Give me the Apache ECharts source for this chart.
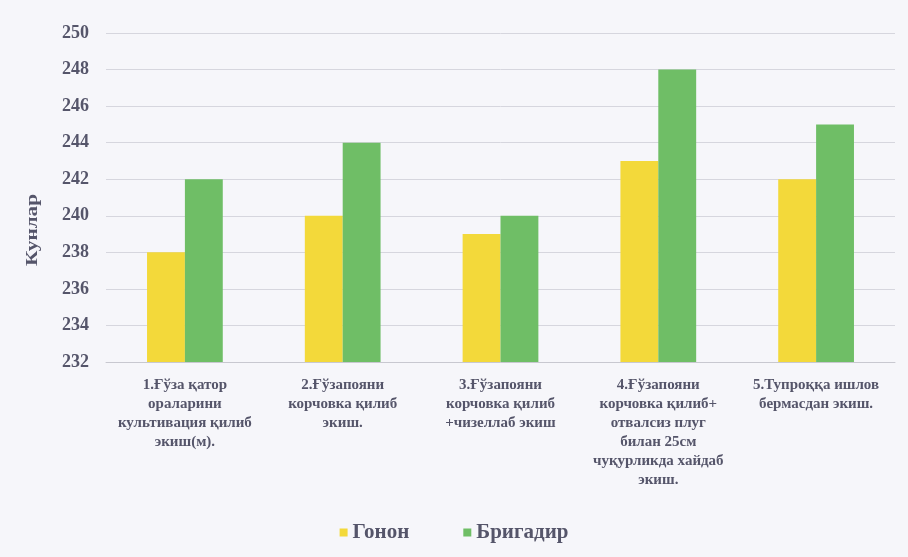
<!DOCTYPE html>
<html>
<head>
<meta charset="utf-8">
<style>
  html, body { margin: 0; padding: 0; background: #f6f6fa; }
  #chart { width: 908px; height: 557px; }
</style>
<script src="https://cdn.jsdelivr.net/npm/echarts@6/dist/echarts.min.js"></script>
</head>
<body>
<div id="chart"></div>
<script>
// Treatment variants (sowing methods), with line breaks for the axis labels
const categories = [
  '1.Ғўза қатор\nораларини\nкультивация қилиб\nэкиш(м).',
  '2.Ғўзапояни\nкорчовка қилиб\nэкиш.',
  '3.Ғўзапояни\nкорчовка қилиб\n+чизеллаб экиш',
  '4.Ғўзапояни\nкорчовка қилиб+\nотвалсиз плуг\nбилан 25см\nчуқурликда хайдаб\nэкиш.',
  '5.Тупроққа ишлов\nбермасдан экиш.'
];
// Days for each cotton variety
const gononDays = [238, 240, 239, 243, 242];
const brigadirDays = [242, 244, 240, 248, 245];
const seriesNames = ['Гонон', 'Бригадир'];
const yTicks = { min: 232, max: 250, step: 2 };
const yTitle = 'Кунлар';

const textColor = '#55556a';
const font = '"Liberation Serif", "DejaVu Serif", serif';

const chart = echarts.init(document.getElementById('chart'));
chart.setOption({
  backgroundColor: '#f6f6fa',
  textStyle: { fontFamily: font },
  grid: { left: 106, right: 13, top: 33, bottom: 195 },
  legend: {
    bottom: 9,
    left: 'center',
    itemWidth: 8,
    itemHeight: 8,
    itemGap: 54,
    icon: 'rect',
    textStyle: { color: textColor, fontSize: 21, fontWeight: 'bold', fontFamily: font },
    data: seriesNames
  },
  graphic: [{
    type: 'text',
    x: 33,
    y: 230,
    rotation: Math.PI / 2,
    scaleX: 1.25,
    style: {
      text: yTitle,
      fill: textColor,
      font: 'bold 17px ' + font,
      align: 'center',
      verticalAlign: 'middle'
    }
  }],
  xAxis: {
    type: 'category',
    data: categories,
    axisLine: { show: true, lineStyle: { color: '#c8c8d0' } },
    axisTick: { show: false },
    axisLabel: {
      interval: 0,
      color: textColor,
      fontSize: 15,
      fontWeight: 'bold',
      fontFamily: font,
      lineHeight: 19,
      margin: 14,
      align: 'center'
    }
  },
  yAxis: {
    type: 'value',
    min: yTicks.min,
    max: yTicks.max,
    interval: yTicks.step,
    axisLine: { show: false },
    axisTick: { show: false },
    axisLabel: { color: textColor, fontSize: 18, fontWeight: 'bold', fontFamily: font, margin: 17 },
    splitLine: { lineStyle: { color: '#d6d6de', width: 1 } }
  },
  series: [
    {
      name: seriesNames[0],
      type: 'bar',
      data: gononDays,
      barGap: '0%',
      barCategoryGap: '52%',
      itemStyle: { color: '#f3d93a' }
    },
    {
      name: seriesNames[1],
      type: 'bar',
      data: brigadirDays,
      itemStyle: { color: '#6fbe66' }
    }
  ]
});
</script>
</body>
</html>
